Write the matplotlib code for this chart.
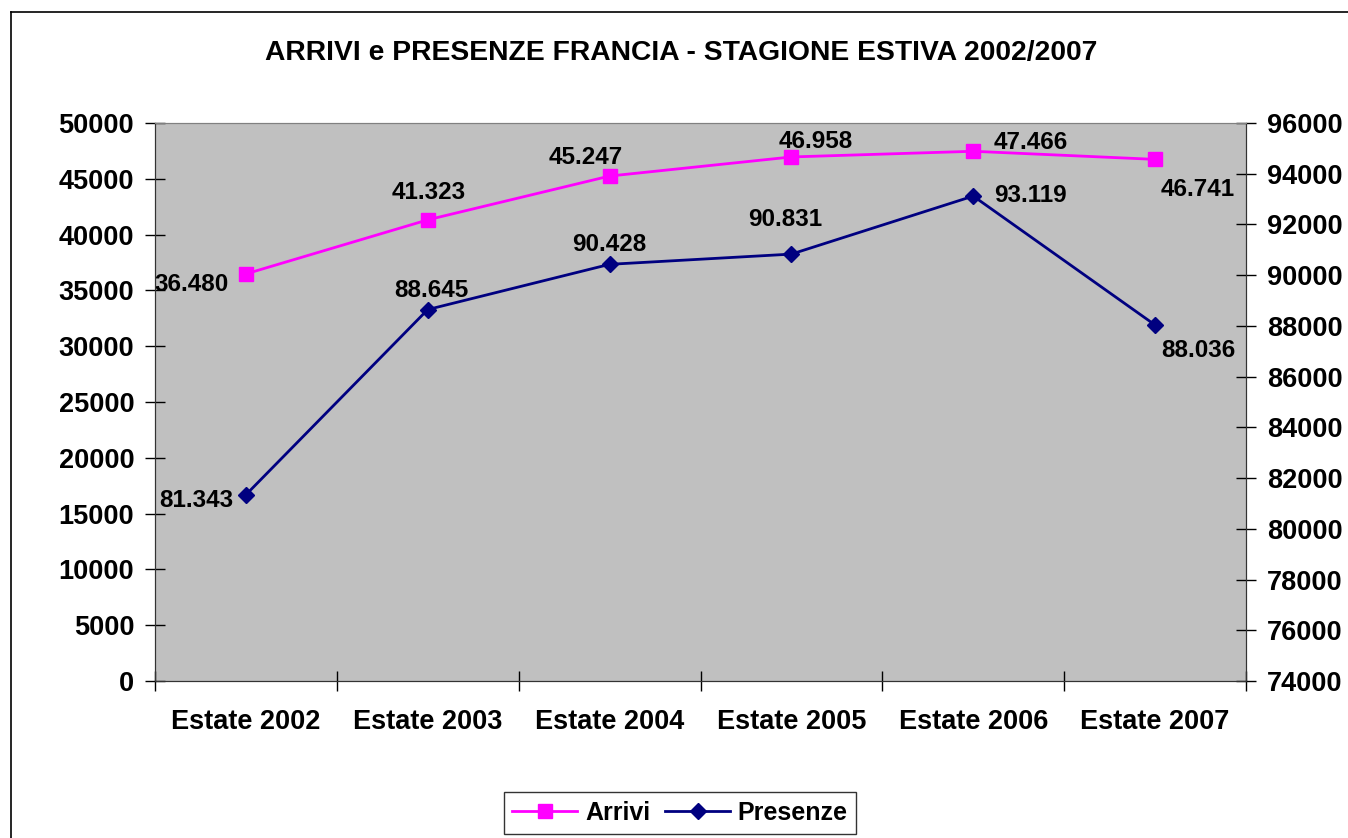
import matplotlib.pyplot as plt
from matplotlib.lines import Line2D
from matplotlib.ticker import FixedLocator

plt.rcParams['font.family'] = ['Liberation Sans', 'DejaVu Sans']
plt.rcParams['font.weight'] = 'bold'

# data
categorie = ['Estate 2002', 'Estate 2003', 'Estate 2004', 'Estate 2005', 'Estate 2006', 'Estate 2007']
arrivi = [36480, 41323, 45247, 46958, 47466, 46741]
presenze = [81343, 88645, 90428, 90831, 93119, 88036]
arrivi_lbl = ['36.480', '41.323', '45.247', '46.958', '47.466', '46.741']
presenze_lbl = ['81.343', '88.645', '90.428', '90.831', '93.119', '88.036']

# label offsets in pixels
off_arr = [(-54, -11), (1, 27), (-24, 19), (24, 15), (57, 9), (43, -30)]
off_pre = [(-50, -6), (4, 19), (0, 20), (-6, 35), (57, 1), (43, -26)]

W, H = 1348, 838
fig = plt.figure(figsize=(W / 100, H / 100), dpi=100)
ax = fig.add_axes([155 / W, 1 - 681 / H, (1246 - 155) / W, (681 - 123) / H])
ax2 = ax.twinx()

x = list(range(len(categorie)))
l1, = ax.plot(x, arrivi, color='#FF00FF', lw=2, marker='s', ms=10, zorder=3, label='Arrivi')
l2, = ax2.plot(x, presenze, color='#000080', lw=2, marker='D', ms=8, zorder=3, label='Presenze')

ax.set_facecolor('#C0C0C0')
ax.set_xlim(-0.5, len(categorie) - 0.5)
ax.set_ylim(0, 50000)
ax2.set_ylim(74000, 96000)
ax.set_yticks(range(0, 50001, 5000))
ax2.set_yticks(range(74000, 96001, 2000))
ax.set_xticks(x)
ax.set_xticklabels(categorie)
ax.xaxis.set_minor_locator(FixedLocator([i - 0.5 for i in range(len(categorie) + 1)]))

ax.tick_params(axis='x', which='major', length=0, pad=20, labelsize=19.5)
ax.tick_params(axis='x', which='minor', direction='inout', length=14, width=1)
ax.tick_params(axis='y', direction='inout', length=14, width=1, labelsize=19.5, pad=8)
ax2.tick_params(axis='y', direction='inout', length=14, width=1, labelsize=19.5, pad=8)

for a in (ax, ax2):
    a.spines['top'].set_color('#808080')
    for s in ('left', 'right', 'bottom'):
        a.spines[s].set_color('#333333')

for i in x:
    ax.annotate(arrivi_lbl[i], (i, arrivi[i]), xytext=off_arr[i], textcoords='offset pixels',
                ha='center', va='center', fontsize=17.5, fontweight='bold')
    ax2.annotate(presenze_lbl[i], (i, presenze[i]), xytext=off_pre[i], textcoords='offset pixels',
                 ha='center', va='center', fontsize=17.5, fontweight='bold')

fig.text(681 / W, 1 - 53 / H, 'ARRIVI e PRESENZE FRANCIA - STAGIONE ESTIVA 2002/2007',
         ha='center', va='center', fontsize=20.3, fontweight='bold')

# outer chart border
fig.add_artist(Line2D([11 / W, 11 / W], [0, 1 - 12 / H], color='black', lw=1.2))
fig.add_artist(Line2D([11 / W, 1], [1 - 12 / H, 1 - 12 / H], color='black', lw=1.2))

leg = fig.legend([l1, l2], ['Arrivi', 'Presenze'], loc='center', bbox_to_anchor=(680 / W, 1 - 813 / H),
                 ncol=2, fontsize=18, frameon=True, fancybox=False, handlelength=2.6,
                 columnspacing=0.6, handletextpad=0.3, borderpad=0.35)
leg.get_frame().set_edgecolor('black')
leg.get_frame().set_linewidth(1)

fig.savefig('out.png', dpi=100)
